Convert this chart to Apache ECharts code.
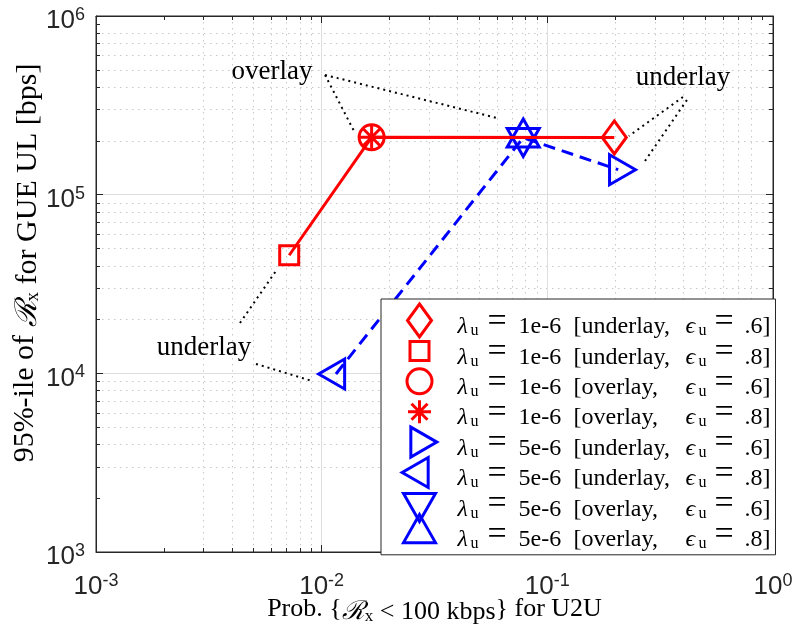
<!DOCTYPE html>
<html><head><meta charset="utf-8">
<script src="https://cdn.jsdelivr.net/npm/echarts@6.0.0/dist/echarts.min.js"></script>
<style>html,body{margin:0;padding:0;background:#fff;}#chart{width:792px;height:630px;}</style>
</head><body>
<div id="chart"></div>
<script>
// ---------------- data ----------------
const lambdaValues = ['1e-6', '1e-6', '1e-6', '1e-6', '5e-6', '5e-6', '5e-6', '5e-6'];
const modeValues   = ['underlay', 'underlay', 'overlay', 'overlay', 'underlay', 'underlay', 'overlay', 'overlay'];
const epsValues    = ['.6', '.8', '.6', '.8', '.6', '.8', '.6', '.8'];
const probX = [0.198, 0.00718, 0.01665, 0.01665, 0.2061, 0.01157, 0.0782, 0.0782];
const rateY = [209000, 45800, 209500, 209500, 138000, 9920, 208200, 208200];
const redPath  = [1, 2, 0];   // order of the points joined by the red solid line
const bluePath = [5, 6, 4];   // order of the points joined by the blue dashed line
const xTickValues = [0.001, 0.01, 0.1, 1];
const yTickValues = [1000, 10000, 100000, 1000000];
const annotationLabels = ['overlay', 'underlay', 'underlay'];
const annotationLabelX = [0.006022, 0.399, 0.00301];
const annotationLabelY = [486000, 449800, 13870];
const leaderFromX = [0.01035, 0.01035, 0.399, 0.4155, 0.004345, 0.005117];
const leaderFromY = [467700, 467700, 352100, 338800, 19140, 11290];
const leaderToX   = [0.0139, 0.0598, 0.2299, 0.2652, 0.006272, 0.009057];
const leaderToY   = [227300, 268700, 213100, 148500, 37410, 9069];

// ---------------- styles ----------------
const seriesNames = lambdaValues.map((l, i) => 'λu = ' + l + ' [' + modeValues[i] + ', ϵu = ' + epsValues[i] + ']');
const seriesColor = ['#ff0000', '#ff0000', '#ff0000', '#ff0000', '#0000ff', '#0000ff', '#0000ff', '#0000ff'];
const symbolPaths = [
  'path://M0 0M40 40M20 3.5L32 20L20 36.5L8 20Z',
  'path://M0 0M40 40M10.5 10.5L29.5 10.5L29.5 29.5L10.5 29.5Z',
  'path://M0 0M40 40M7.5 20A12.5 12.5 0 1 0 32.5 20A12.5 12.5 0 1 0 7.5 20Z',
  'path://M0 0M40 40M20 8.5L20 31.5M8.5 20L31.5 20M12 12L28 28M28 12L12 28',
  'path://M0 0M40 40M11.33 5L37.33 20L11.33 35Z',
  'path://M0 0M40 40M28.67 5L2.67 20L28.67 35Z',
  'path://M0 0M40 40M4 10.67L36 10.67L20 38.67Z',
  'path://M0 0M40 40M20 1.33L36 29.33L4 29.33Z'
];
const axisColor = '#262626';
const serif = '"Liberation Serif", "DejaVu Serif", serif';
const sans = '"Liberation Sans", Arial, sans-serif';

function minorLogs(lo, hi) {
  const out = [];
  for (let d = lo; d < hi; d++) for (let k = 2; k <= 9; k++) out.push(d + Math.log10(k));
  return out;
}
const xLogMin = Math.round(Math.log10(xTickValues[0])), xLogMax = Math.round(Math.log10(xTickValues[xTickValues.length - 1]));
const yLogMin = Math.round(Math.log10(yTickValues[0])), yLogMax = Math.round(Math.log10(yTickValues[yTickValues.length - 1]));
const xMinor = minorLogs(xLogMin, xLogMax);
const yMinor = minorLogs(yLogMin, yLogMax);

const supLabel = v => '{b|10}{s|' + Math.round(Math.log10(v)) + '}';
const labelRich = {
  b: { fontFamily: sans, fontSize: 26, lineHeight: 30, color: axisColor },
  s: { fontFamily: sans, fontSize: 18, lineHeight: 14.5, verticalAlign: 'top', color: axisColor }
};
const xTitleRich = {
  t: { fontFamily: serif, fontSize: 26, lineHeight: 32, color: '#000', verticalAlign: 'bottom' },
  c: { fontFamily: serif, fontSize: 26, lineHeight: 32, color: '#000', fontStyle: 'italic', verticalAlign: 'bottom' },
  x: { fontFamily: serif, fontSize: 17, lineHeight: 18, color: '#000', verticalAlign: 'bottom' }
};
const yTitleRich = {
  t: { fontFamily: serif, fontSize: 30, lineHeight: 36, color: '#000', verticalAlign: 'bottom' },
  c: { fontFamily: serif, fontSize: 30, lineHeight: 36, color: '#000', fontStyle: 'italic', verticalAlign: 'bottom' },
  x: { fontFamily: serif, fontSize: 19, lineHeight: 19.6, color: '#000', verticalAlign: 'bottom' }
};

function helperX(pos, withGrid) {
  return {
    type: 'value', min: xLogMin, max: xLogMax, position: pos,
    axisLine: { show: false, onZero: false }, axisLabel: { show: false },
    axisTick: { show: true, inside: true, length: 4, customValues: xMinor, lineStyle: { color: axisColor, width: 1 } },
    splitLine: { show: withGrid, showMinLine: false, showMaxLine: false, lineStyle: { color: '#c8c8c8', width: 1, type: [1.5, 4.5] } }
  };
}
function helperY(pos, withGrid) {
  return {
    type: 'value', min: yLogMin, max: yLogMax, position: pos,
    axisLine: { show: false, onZero: false }, axisLabel: { show: false },
    axisTick: { show: true, inside: true, length: 4, customValues: yMinor, lineStyle: { color: axisColor, width: 1 } },
    splitLine: { show: withGrid, showMinLine: false, showMaxLine: false, lineStyle: { color: '#c8c8c8', width: 1, type: [1.5, 4.5] } }
  };
}

const markerSeries = seriesNames.map((name, i) => ({
  type: 'scatter', name: name, xAxisIndex: 0, yAxisIndex: 0,
  data: [[probX[i], rateY[i]]],
  symbol: symbolPaths[i], symbolSize: 40,
  itemStyle: { color: 'rgba(0,0,0,0)', borderColor: seriesColor[i], borderWidth: 3, opacity: 1 },
  emphasis: { disabled: true }, silent: true,
  z: i < 4 ? 6 : 3
}));

const lineSeries = [
  { type: 'line', name: 'red-line', xAxisIndex: 0, yAxisIndex: 0, data: redPath.map(i => [probX[i], rateY[i]]),
    symbol: 'none', lineStyle: { color: '#ff0000', width: 3 }, z: 5, silent: true },
  { type: 'line', name: 'blue-line', xAxisIndex: 0, yAxisIndex: 0, data: bluePath.map(i => [probX[i], rateY[i]]),
    symbol: 'none', lineStyle: { color: '#0000ff', width: 3, type: [12, 7] }, z: 2, silent: true }
];

const leaderSeries = leaderFromX.map((fx, i) => ({
  type: 'line', name: 'leader' + i, xAxisIndex: 0, yAxisIndex: 0,
  data: [[fx, leaderFromY[i]], [leaderToX[i], leaderToY[i]]],
  symbol: 'none', lineStyle: { color: '#000', width: 2, type: [2, 4] }, z: 2, silent: true
}));

const annotationSeries = {
  type: 'scatter', name: 'annotations', xAxisIndex: 0, yAxisIndex: 0,
  data: annotationLabels.map((t, i) => ({ value: [annotationLabelX[i], annotationLabelY[i]], name: t })),
  symbolSize: 1, itemStyle: { color: 'rgba(0,0,0,0)', opacity: 1 }, silent: true,
  label: { show: true, position: 'inside', formatter: '{b}', fontFamily: serif, fontSize: 27, color: '#000',
           textBorderWidth: 0, opacity: 1 },
  z: 7
};

const legendRich = {
  g: { width: 13, fontSize: 10, lineHeight: 10, verticalAlign: 'bottom' },
  a: { fontFamily: serif, fontSize: 24, lineHeight: 30, fontStyle: 'italic', color: '#000', width: 13, verticalAlign: 'bottom' },
  u1: { fontFamily: serif, fontSize: 16, lineHeight: 16.6, color: '#000', width: 17, verticalAlign: 'bottom' },
  u2: { fontFamily: serif, fontSize: 16, lineHeight: 16.6, color: '#000', width: 16, verticalAlign: 'bottom' },
  q1: { fontFamily: serif, fontSize: 34, lineHeight: 36.8, color: '#000', width: 31, verticalAlign: 'bottom' },
  q2: { fontFamily: serif, fontSize: 34, lineHeight: 36.8, color: '#000', width: 30, verticalAlign: 'bottom' },
  n: { fontFamily: serif, fontSize: 24, lineHeight: 30, color: '#000', width: 55, verticalAlign: 'bottom' },
  m: { fontFamily: serif, fontSize: 24, lineHeight: 30, color: '#000', width: 112, verticalAlign: 'bottom' },
  e: { fontFamily: serif, fontSize: 24, lineHeight: 30, color: '#000', width: 22, verticalAlign: 'bottom' }
};

const chart = echarts.init(document.getElementById('chart'), null, { renderer: 'canvas' });
chart.setOption({
  animation: false,
  backgroundColor: '#ffffff',
  grid: { left: 96, top: 16, right: 19, bottom: 78, containLabel: false, outerBoundsMode: 'none',
          show: true, backgroundColor: '#ffffff', borderColor: axisColor, borderWidth: 1 },
  legend: {
    data: seriesNames, orient: 'vertical', left: 381, top: 299,
    padding: [0, 5, 0, 17], itemGap: -12.6, itemWidth: 40, itemHeight: 40,
    backgroundColor: '#ffffff', borderColor: axisColor, borderWidth: 1, borderRadius: 0,
    selectedMode: false, symbolKeepAspect: true,
    itemStyle: { borderWidth: 3 },
    formatter: function (name) {
      const i = seriesNames.indexOf(name);
      return '{g| }{a|λ}{u1|u}{q1|=}{n|' + lambdaValues[i] + '}{m|[' + modeValues[i] + ',}{a|ϵ}{u2|u}{q2|=}{e|' + epsValues[i] + ']}';
    },
    textStyle: { fontFamily: serif, fontSize: 24, color: '#000', rich: legendRich },
    z: 10
  },
  xAxis: [
    { type: 'log', logBase: 10, min: xTickValues[0], max: xTickValues[xTickValues.length - 1], position: 'bottom',
      axisLine: { show: true, onZero: false, lineStyle: { color: axisColor, width: 1 } },
      axisTick: { show: true, inside: true, length: 7, lineStyle: { color: axisColor, width: 1 } },
      axisLabel: { show: true, formatter: supLabel, margin: 20, rich: labelRich, showMinLabel: true, showMaxLabel: true },
      splitLine: { show: true, showMinLine: false, showMaxLine: false, lineStyle: { color: '#dedede', width: 1 } },
      name: 'Prob. {{c|ℛ}{x|x}{t| < 100 kbps}} for U2U', nameLocation: 'middle', nameGap: 41, nameMoveOverlap: false,
      nameTextStyle: { fontFamily: serif, fontSize: 26, lineHeight: 32, color: '#000', rich: xTitleRich } },
    helperX('bottom', true),
    { type: 'log', logBase: 10, min: xTickValues[0], max: xTickValues[xTickValues.length - 1], position: 'top',
      axisLine: { show: true, onZero: false, lineStyle: { color: axisColor, width: 1 } },
      axisTick: { show: true, inside: true, length: 7, lineStyle: { color: axisColor, width: 1 } },
      axisLabel: { show: false }, splitLine: { show: false } },
    helperX('top', false)
  ],
  yAxis: [
    { type: 'log', logBase: 10, min: yTickValues[0], max: yTickValues[yTickValues.length - 1], position: 'left',
      axisLine: { show: true, onZero: false, lineStyle: { color: axisColor, width: 1 } },
      axisTick: { show: true, inside: true, length: 7, lineStyle: { color: axisColor, width: 1 } },
      axisLabel: { show: true, formatter: supLabel, margin: 11, rich: labelRich, padding: [10, 0, 0, 0], showMinLabel: true, showMaxLabel: true },
      splitLine: { show: true, showMinLine: false, showMaxLine: false, lineStyle: { color: '#dedede', width: 1 } },
      name: '95%-ile of {c|ℛ}{x|x}{t| for GUE UL [bps]}', nameLocation: 'middle', nameGap: 53, nameMoveOverlap: false,
      nameTextStyle: { fontFamily: serif, fontSize: 30, lineHeight: 36, color: '#000', rich: yTitleRich, padding: [0, 0, 0, 42] } },
    helperY('left', true),
    { type: 'log', logBase: 10, min: yTickValues[0], max: yTickValues[yTickValues.length - 1], position: 'right',
      axisLine: { show: true, onZero: false, lineStyle: { color: axisColor, width: 1 } },
      axisTick: { show: true, inside: true, length: 7, lineStyle: { color: axisColor, width: 1 } },
      axisLabel: { show: false }, splitLine: { show: false } },
    helperY('right', false)
  ],
  series: [].concat(lineSeries, leaderSeries, markerSeries, [annotationSeries])
});
</script>
</body></html>
